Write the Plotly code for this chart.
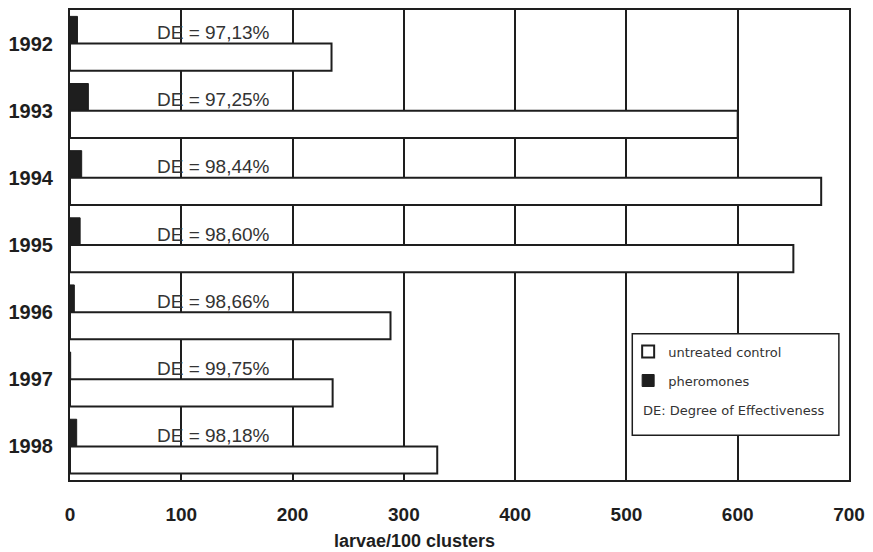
import plotly.graph_objects as go

# larvae per 100 clusters, by year
years = ["1992", "1993", "1994", "1995", "1996", "1997", "1998"]
control = [235, 600, 675, 650, 288, 236, 330]
pheromones = [6.7, 16.5, 10.5, 9.1, 3.9, 0.6, 6.0]
de_labels = ["97,13%", "97,25%", "98,44%", "98,60%", "98,66%", "99,75%", "98,18%"]
x_ticks = [0, 100, 200, 300, 400, 500, 600, 700]

INK = "#1e1e1e"

fig = go.Figure()

# pheromone bars come first so they sit above the control bar of each year
fig.add_trace(go.Bar(
    y=years, x=pheromones, orientation="h", name="pheromones",
    marker=dict(color=INK, line=dict(color=INK, width=1)),
    legendgroup="p", legendrank=2,
))
fig.add_trace(go.Bar(
    y=years, x=control, orientation="h", name="untreated control",
    marker=dict(color="white", line=dict(color=INK, width=2)),
    legendgroup="c", legendrank=1,
))

# DE labels over each pheromone bar row (category axis -> index positions)
for i, lab in enumerate(de_labels):
    fig.add_annotation(
        x=129, y=i, xref="x", yref="y", text="DE = " + lab,
        showarrow=False, xanchor="center", yanchor="middle", yshift=11,
        font=dict(family="Liberation Sans, Arial", size=19, color="#333333"),
    )

# legend frame plus the explanatory line underneath the entries
fig.add_shape(
    type="rect", xref="paper", yref="paper",
    x0=0.7218, x1=0.987, y0=0.0953, y1=0.3114,
    line=dict(color=INK, width=1.5), fillcolor="white", layer="above",
)
fig.add_annotation(
    x=0.733, y=0.148, xref="paper", yref="paper",
    text="DE: Degree of Effectiveness", showarrow=False,
    xanchor="left", yanchor="middle",
    font=dict(family="DejaVu Sans", size=13, color="#333333"),
)

# axis title
fig.add_annotation(
    x=0.442, y=-0.13, xref="paper", yref="paper",
    text="<b>larvae/100 clusters</b>", showarrow=False,
    xanchor="center", yanchor="middle",
    font=dict(family="Liberation Sans, Arial", size=18, color=INK),
)

fig.update_layout(
    width=873, height=552,
    margin=dict(l=70, r=23, t=8, b=72),
    paper_bgcolor="white", plot_bgcolor="white",
    barmode="group", bargap=0.19, bargroupgap=0,
    showlegend=True,
    legend=dict(
        x=0.7165, y=0.305, xanchor="left", yanchor="top",
        bgcolor="rgba(0,0,0,0)", borderwidth=0,
        tracegroupgap=9,
        font=dict(family="DejaVu Sans", size=13, color="#333333"),
    ),
    xaxis=dict(
        range=[0, 700], tickvals=x_ticks, ticktext=[str(v) for v in x_ticks],
        showgrid=True, gridcolor=INK, gridwidth=1.5,
        showline=True, linecolor=INK, linewidth=2, mirror=True,
        ticks="", ticklabelstandoff=16, zeroline=False,
        tickfont=dict(family="Liberation Sans, Arial", size=19, color=INK, weight="bold"),
    ),
    yaxis=dict(
        type="category", categoryorder="array", categoryarray=years,
        autorange="reversed",
        showgrid=False,
        showline=True, linecolor=INK, linewidth=2, mirror=True,
        ticks="", ticklabelstandoff=11,
        tickfont=dict(family="Liberation Sans, Arial", size=20, color=INK, weight="bold"),
    ),
)

fig.write_html("out.html")
